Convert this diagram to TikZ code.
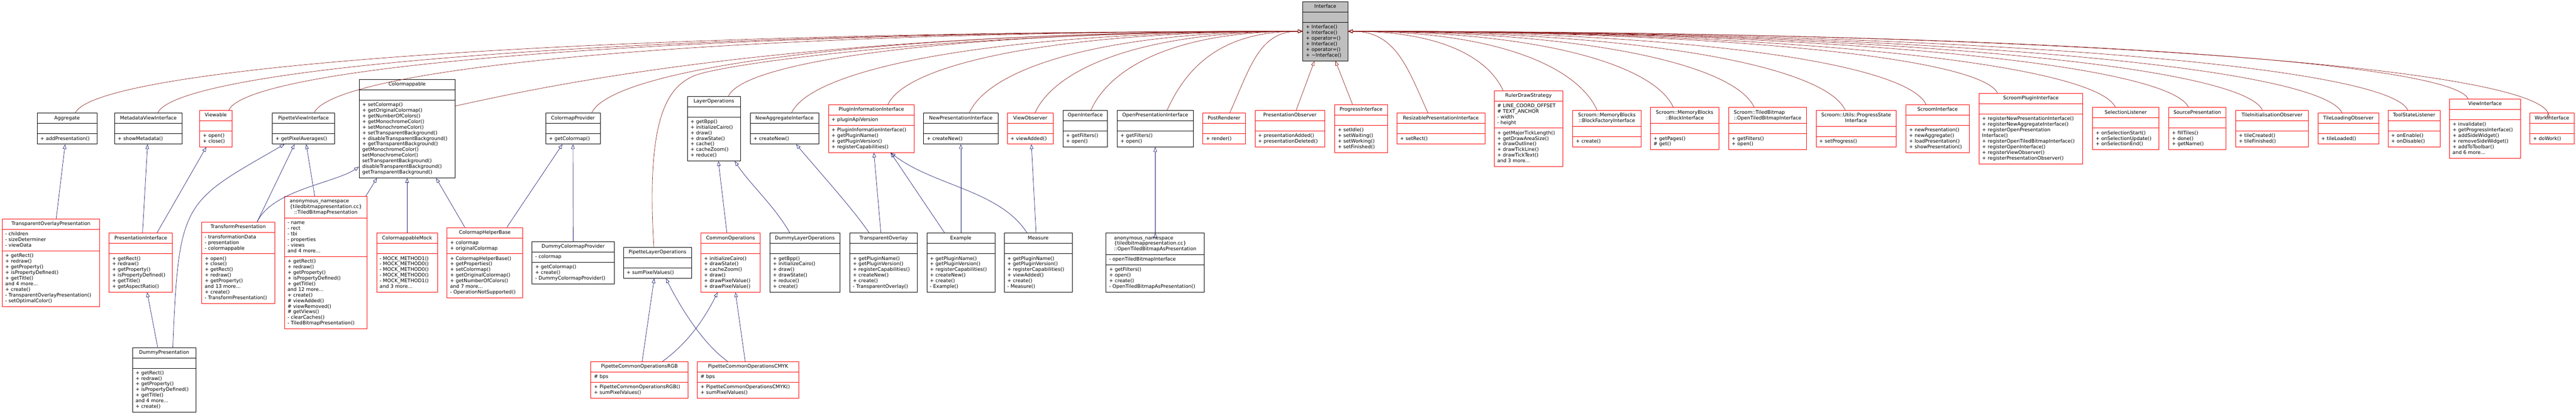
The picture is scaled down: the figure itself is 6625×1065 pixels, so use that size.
\documentclass[tikz,border=0pt]{standalone}
\usepackage{fontspec}
\setmainfont{DejaVu Sans}
\usetikzlibrary{arrows.meta,shapes.multipart,calc}

\definecolor{privred}{HTML}{8B1A1A}
\definecolor{pubblue}{HTML}{191970}
\definecolor{rootgray}{HTML}{BFBFBF}

\newcommand{\mlist}[1]{\begin{tabular}{@{}l@{}}#1\end{tabular}}
\newcommand{\ctitle}[2]{\begin{tabular}{@{}l@{}}#1\\\multicolumn{1}{@{}c@{}}{#2}\end{tabular}}

\begin{document}
\fontsize{12.6}{14.5}\selectfont
\begin{tikzpicture}[x=1pt,y=-1pt,
  cls/.style={rectangle split,rectangle split parts=3,rectangle split part align={center,left,left},
    draw=black,fill=white,line width=1pt,inner xsep=8pt,inner ysep=5.5pt,anchor=west},
  clsred/.style={cls,draw=red},
  clsroot/.style={cls,fill=rootgray},
  pub/.style={draw=pubblue,line width=0.9pt,-{Triangle[open,length=12pt,width=9pt]}},
  privl/.style={draw=privred,line width=0.9pt,-{Triangle[open,length=12pt,width=9pt]}},
  priv/.style={privl,to path={let \p1=(\tikztostart),\p2=(\tikztotarget),
      \n1={\x2-\x1},\n2={\y2-\y1},\n3={sign(\x2-\x1)} in
      .. controls ({\x1+0.25*\n2*\n3},{\y1+0.55*\n2}) and ({\x2-0.6*\n1},\y2) .. (\tikztotarget)}}]

\fill[white] (0,0) rectangle (6625,1065);

\node[clsroot,minimum width=116] (ifc) at (3350,80.5) {\strut Interface\nodepart{two}\strut\nodepart{three}\mlist{+ Interface()\\+ Interface()\\+ operator=()\\+ Interface()\\+ operator=()\\+ \textasciitilde Interface()}};

\node[cls,minimum width=154] (agg) at (95,331) {\strut Aggregate\nodepart{two}\strut\nodepart{three}\mlist{+ addPresentation()}};
\node[cls,minimum width=174] (meta) at (294,331) {\strut MetadataViewInterface\nodepart{two}\strut\nodepart{three}\mlist{+ showMetadata()}};
\node[clsred,minimum width=83] (view) at (513,331) {\strut Viewable\nodepart{two}\strut\nodepart{three}\mlist{+ open()\\+ close()}};
\node[cls,minimum width=160] (pipv) at (700,331) {\strut PipetteViewInterface\nodepart{two}\strut\nodepart{three}\mlist{+ getPixelAverages()}};
\node[cls,minimum width=247] (cmap) at (923,331) {\strut Colormappable\nodepart{two}\strut\nodepart{three}\mlist{+ setColormap()\\+ getOriginalColormap()\\+ getNumberOfColors()\\+ getMonochromeColor()\\+ setMonochromeColor()\\+ setTransparentBackground()\\+ disableTransparentBackground()\\+ getTransparentBackground()\\* getMonochromeColor()\\* setMonochromeColor()\\* setTransparentBackground()\\* disableTransparentBackground()\\* getTransparentBackground()}};
\node[cls,minimum width=140] (cprov) at (1403,331) {\strut ColormapProvider\nodepart{two}\strut\nodepart{three}\mlist{+ getColormap()}};
\node[cls,minimum width=137] (lops) at (1767,331) {\strut LayerOperations\nodepart{two}\strut\nodepart{three}\mlist{+ getBpp()\\+ initializeCairo()\\+ draw()\\+ drawState()\\+ cache()\\+ cacheZoom()\\+ reduce()}};
\node[cls,minimum width=176] (nagg) at (1929,331) {\strut NewAggregateInterface\nodepart{two}\strut\nodepart{three}\mlist{+ createNew()}};
\node[clsred,minimum width=221] (pinfo) at (2130,331) {\strut PluginInformationInterface\nodepart{two}\mlist{+ pluginApiVersion}\nodepart{three}\mlist{+ PluginInformationInterface()\\+ getPluginName()\\+ getPluginVersion()\\+ registerCapabilities()}};
\node[cls,minimum width=191] (npres) at (2375,331) {\strut NewPresentationInterface\nodepart{two}\strut\nodepart{three}\mlist{+ createNew()}};
\node[clsred,minimum width=118] (vobs) at (2590,331) {\strut ViewObserver\nodepart{two}\strut\nodepart{three}\mlist{+ viewAdded()}};
\node[cls,minimum width=115] (openi) at (2733,331) {\strut OpenInterface\nodepart{two}\strut\nodepart{three}\mlist{+ getFilters()\\+ open()}};
\node[cls,minimum width=195] (opres) at (2873,331) {\strut OpenPresentationInterface\nodepart{two}\strut\nodepart{three}\mlist{+ getFilters()\\+ open()}};
\node[clsred,minimum width=109] (post) at (3093,331) {\strut PostRenderer\nodepart{two}\strut\nodepart{three}\mlist{+ render()}};
\node[clsred,minimum width=180] (pobs) at (3227,331) {\strut PresentationObserver\nodepart{two}\strut\nodepart{three}\mlist{+ presentationAdded()\\+ presentationDeleted()}};
\node[clsred,minimum width=136] (prog) at (3432,331) {\strut ProgressInterface\nodepart{two}\strut\nodepart{three}\mlist{+ setIdle()\\+ setWaiting()\\+ setWorking()\\+ setFinished()}};
\node[clsred,minimum width=226] (rpres) at (3592,331) {\strut ResizablePresentationInterface\nodepart{two}\strut\nodepart{three}\mlist{+ setRect()}};
\node[clsred,minimum width=177] (ruler) at (3842,331) {\strut RulerDrawStrategy\nodepart{two}\mlist{\# LINE\_COORD\_OFFSET\\\# TEXT\_ANCHOR\\- width\\- height}\nodepart{three}\mlist{+ getMajorTickLength()\\+ getDrawAreaSize()\\+ drawOutline()\\+ drawTickLine()\\+ drawTickText()\\and 3 more...}};
\node[clsred,minimum width=176] (bfact) at (4044,331) {\ctitle{Scroom::MemoryBlocks}{::BlockFactoryInterface}\nodepart{two}\strut\nodepart{three}\mlist{+ create()}};
\node[clsred,minimum width=176] (block) at (4244,331) {\ctitle{Scroom::MemoryBlocks}{::BlockInterface}\nodepart{two}\strut\nodepart{three}\mlist{+ getPages()\\\# get()}};
\node[clsred,minimum width=201] (otbi) at (4445,331) {\ctitle{Scroom::TiledBitmap}{::OpenTiledBitmapInterface}\nodepart{two}\strut\nodepart{three}\mlist{+ getFilters()\\+ open()}};
\node[clsred,minimum width=206] (pstate) at (4670,331) {\ctitle{Scroom::Utils::ProgressState}{Interface}\nodepart{two}\strut\nodepart{three}\mlist{+ setProgress()}};
\node[clsred,minimum width=163] (sifc) at (4901,331) {\strut ScroomInterface\nodepart{two}\strut\nodepart{three}\mlist{+ newPresentation()\\+ newAggregate()\\+ loadPresentation()\\+ showPresentation()}};
\node[clsred,minimum width=267] (splug) at (5089,331) {\strut ScroomPluginInterface\nodepart{two}\strut\nodepart{three}\mlist{+ registerNewPresentationInterface()\\+ registerNewAggregateInterface()\\+ registerOpenPresentation\\Interface()\\+ registerOpenTiledBitmapInterface()\\+ registerOpenInterface()\\+ registerViewObserver()\\+ registerPresentationObserver()}};
\node[clsred,minimum width=171] (sel) at (5381,331) {\strut SelectionListener\nodepart{two}\strut\nodepart{three}\mlist{+ onSelectionStart()\\+ onSelectionUpdate()\\+ onSelectionEnd()}};
\node[clsred,minimum width=147] (src) at (5577,331) {\strut SourcePresentation\nodepart{two}\strut\nodepart{three}\mlist{+ fillTiles()\\+ done()\\+ getName()}};
\node[clsred,minimum width=187] (tinit) at (5749,331) {\strut TileInitialisationObserver\nodepart{two}\strut\nodepart{three}\mlist{+ tileCreated()\\+ tileFinished()}};
\node[clsred,minimum width=156] (tload) at (5961,331) {\strut TileLoadingObserver\nodepart{two}\strut\nodepart{three}\mlist{+ tileLoaded()}};
\node[clsred,minimum width=134] (tool) at (6141,331) {\strut ToolStateListener\nodepart{two}\strut\nodepart{three}\mlist{+ onEnable()\\+ onDisable()}};
\node[clsred,minimum width=183] (vifc) at (6299,331) {\strut ViewInterface\nodepart{two}\strut\nodepart{three}\mlist{+ invalidate()\\+ getProgressInterface()\\+ addSideWidget()\\+ removeSideWidget()\\+ addToToolbar()\\and 6 more...}};
\node[clsred,minimum width=113] (work) at (6506,331) {\strut WorkInterface\nodepart{two}\strut\nodepart{three}\mlist{+ doWork()}};

\node[clsred,minimum width=251] (tovp) at (5,676) {\strut TransparentOverlayPresentation\nodepart{two}\mlist{- children\\- sizeDeterminer\\- viewData}\nodepart{three}\mlist{+ getRect()\\+ redraw()\\+ getProperty()\\+ isPropertyDefined()\\+ getTitle()\\and 4 more...\\+ create()\\- TransparentOverlayPresentation()\\- setOptimalColor()}};
\node[clsred,minimum width=163] (pint) at (280,676) {\strut PresentationInterface\nodepart{two}\strut\nodepart{three}\mlist{+ getRect()\\+ redraw()\\+ getProperty()\\+ isPropertyDefined()\\+ getTitle()\\+ getAspectRatio()}};
\node[clsred,minimum width=188] (tfp) at (518,676) {\strut TransformPresentation\nodepart{two}\mlist{- transformationData\\- presentation\\- colormappable}\nodepart{three}\mlist{+ open()\\+ close()\\+ getRect()\\+ redraw()\\+ getProperty()\\and 13 more...\\+ create()\\- TransformPresentation()}};
\node[clsred,minimum width=213] (tbp) at (731,676) {\ctitle{anonymous\_namespace\\\{tiledbitmappresentation.cc\}}{::TiledBitmapPresentation}\nodepart{two}\mlist{- name\\- rect\\- tbi\\- properties\\- views\\and 4 more...}\nodepart{three}\mlist{+ getRect()\\+ redraw()\\+ getProperty()\\+ isPropertyDefined()\\+ getTitle()\\and 12 more...\\+ create()\\\# viewAdded()\\\# viewRemoved()\\\# getViews()\\- clearCaches()\\- TiledBitmapPresentation()}};
\node[clsred,minimum width=157] (cmock) at (968,676) {\strut ColormappableMock\nodepart{two}\strut\nodepart{three}\mlist{- MOCK\_METHOD1()\\- MOCK\_METHOD0()\\- MOCK\_METHOD0()\\- MOCK\_METHOD0()\\- MOCK\_METHOD1()\\and 3 more...}};
\node[clsred,minimum width=195] (chelp) at (1149,676) {\strut ColormapHelperBase\nodepart{two}\mlist{+ colormap\\+ originalColormap}\nodepart{three}\mlist{+ ColormapHelperBase()\\+ getProperties()\\+ setColormap()\\+ getOriginalColormap()\\+ getNumberOfColors()\\and 7 more...\\- OperationNotSupported()}};
\node[cls,minimum width=211] (dcprov) at (1368,676) {\strut DummyColormapProvider\nodepart{two}\mlist{- colormap}\nodepart{three}\mlist{+ getColormap()\\+ create()\\- DummyColormapProvider()}};
\node[cls,minimum width=175] (plops) at (1603,676) {\strut PipetteLayerOperations\nodepart{two}\strut\nodepart{three}\mlist{+ sumPixelValues()}};
\node[clsred,minimum width=153] (cops) at (1802,676) {\strut CommonOperations\nodepart{two}\strut\nodepart{three}\mlist{+ initializeCairo()\\+ drawState()\\+ cacheZoom()\\+ draw()\\+ drawPixelValue()\\+ drawPixelValue()}};
\node[cls,minimum width=181] (dlo) at (1979,676) {\strut DummyLayerOperations\nodepart{two}\strut\nodepart{three}\mlist{+ getBpp()\\+ initializeCairo()\\+ draw()\\+ drawState()\\+ reduce()\\+ create()}};
\node[cls,minimum width=174] (tov) at (2185,676) {\strut TransparentOverlay\nodepart{two}\strut\nodepart{three}\mlist{+ getPluginName()\\+ getPluginVersion()\\+ registerCapabilities()\\+ createNew()\\+ create()\\- TransparentOverlay()}};
\node[cls,minimum width=175] (expl) at (2383,676) {\strut Example\nodepart{two}\strut\nodepart{three}\mlist{+ getPluginName()\\+ getPluginVersion()\\+ registerCapabilities()\\+ createNew()\\+ create()\\- Example()}};
\node[cls,minimum width=175] (meas) at (2582,676) {\strut Measure\nodepart{two}\strut\nodepart{three}\mlist{+ getPluginName()\\+ getPluginVersion()\\+ registerCapabilities()\\+ viewAdded()\\+ create()\\- Measure()}};
\node[cls,minimum width=253] (otbp) at (2844,676) {\ctitle{anonymous\_namespace\\\{tiledbitmappresentation.cc\}}{::OpenTiledBitmapAsPresentation}\nodepart{two}\mlist{- openTiledBitmapInterface}\nodepart{three}\mlist{+ getFilters()\\+ open()\\+ create()\\- OpenTiledBitmapAsPresentation()}};

\node[cls,minimum width=163] (dpres) at (340,977.5) {\strut DummyPresentation\nodepart{two}\strut\nodepart{three}\mlist{+ getRect()\\+ redraw()\\+ getProperty()\\+ isPropertyDefined()\\+ getTitle()\\and 4 more...\\+ create()}};
\node[clsred,minimum width=250] (prgb) at (1519,977.5) {\strut PipetteCommonOperationsRGB\nodepart{two}\mlist{\# bps}\nodepart{three}\mlist{+ PipetteCommonOperationsRGB()\\+ sumPixelValues()}};
\node[clsred,minimum width=261] (pcmyk) at (1793,977.5) {\strut PipetteCommonOperationsCMYK\nodepart{two}\mlist{\# bps}\nodepart{three}\mlist{+ PipetteCommonOperationsCMYK()\\+ sumPixelValues()}};

\path[pub] ([xshift=13.5pt]tovp.north) edge ([xshift=-5pt]agg.south)
  ([xshift=4.5pt]pint.north) edge ([xshift=-2pt]meta.south)
  ([xshift=41.5pt]pint.north) edge ([xshift=-24.5pt]view.south)
  ([xshift=-16.5pt]dpres.north) edge ([xshift=16.5pt]pint.south)
  ([xshift=49pt]tfp.north) edge ([xshift=-23pt]pipv.south)
  ([xshift=-28.5pt]tbp.north) edge ([xshift=7pt]pipv.south)
  ([xshift=102.5pt]tbp.north) edge ([xshift=-77.5pt]cmap.south)
  (cmock.north) edge (cmap.south)
  ([xshift=-51.5pt]chelp.north) edge ([xshift=74.5pt]cmap.south)
  ([xshift=56.5pt]chelp.north) edge ([xshift=-27pt]cprov.south)
  (dcprov.north) edge (cprov.south)
  ([xshift=-9.5pt]cops.north) edge ([xshift=11.5pt]lops.south)
  ([xshift=7pt]prgb.north) edge ([xshift=-8.5pt]plops.south)
  ([xshift=-7.5pt]pcmyk.north) edge ([xshift=12.5pt]cops.south)
  ([xshift=-7pt]tov.north) edge ([xshift=6.5pt]pinfo.south)
  ([xshift=-41.5pt]expl.north) edge ([xshift=49.5pt]pinfo.south)
  (expl.north) edge (npres.south)
  ([xshift=-5.5pt]meas.north) edge ([xshift=3pt]vobs.south)
  (otbp.north) edge (opres.south);

\draw[pub] ([xshift=22.5pt]dpres.north) .. controls +(15,-380) and +(-260,150) .. ([xshift=-49pt]pipv.south);
\draw[pub] ([xshift=49pt]tfp.north) .. controls +(40,-82) and +(-63,42) .. ([yshift=29pt]cmap.south west);
\draw[pub] ([xshift=-38.5pt]dlo.north) .. controls +(-40,-70) and +(40,60) .. ([xshift=53.5pt]lops.south);
\draw[pub] ([xshift=59pt]prgb.north) .. controls +(70,-50) and +(-30,60) .. ([xshift=-33.5pt]cops.south);
\draw[pub] ([xshift=-52.5pt]pcmyk.north) .. controls +(-70,-50) and +(30,60) .. ([xshift=21.5pt]plops.south);
\draw[pub] ([xshift=-37pt]tov.north) .. controls +(-40,-60) and +(50,60) .. ([xshift=30pt]nagg.south);
\draw[pub] ([xshift=-28.5pt]meas.north) .. controls +(-70,-110) and +(110,85) .. ([xshift=49.5pt]pinfo.south);

\path[priv] ([xshift=21pt]agg.north) edge (ifc.west)
  ([xshift=24pt]meta.north) edge (ifc.west)
  ([xshift=33.5pt]view.north) edge (ifc.west)
  ([xshift=27pt]pipv.north) edge (ifc.west)
  ([xshift=48pt]cprov.north) edge (ifc.west)
  ([xshift=37.5pt]lops.north) edge (ifc.west)
  ([xshift=18pt]nagg.north) edge (ifc.west)
  ([xshift=42.5pt]pinfo.north) edge (ifc.west)
  ([xshift=21.5pt]npres.north) edge (ifc.west)
  ([xshift=12pt]vobs.north) edge (ifc.west)
  ([xshift=14.5pt]openi.north) edge (ifc.west)
  ([xshift=30.5pt]opres.north) edge (ifc.west)
  ([xshift=14.5pt]post.north) edge (ifc.west)
  ([xshift=-33pt]rpres.north) edge (ifc.east)
  ([xshift=-65.5pt]ruler.north) edge (ifc.east)
  ([xshift=-25pt]bfact.north) edge (ifc.east)
  ([xshift=-29pt]block.north) edge (ifc.east)
  ([xshift=-34.5pt]otbi.north) edge (ifc.east)
  ([xshift=-28pt]pstate.north) edge (ifc.east)
  ([xshift=-29.5pt]sifc.north) edge (ifc.east)
  ([xshift=-85.5pt]splug.north) edge (ifc.east)
  ([xshift=-26.5pt]sel.north) edge (ifc.east)
  ([xshift=-22.5pt]src.north) edge (ifc.east)
  ([xshift=-24.5pt]tinit.north) edge (ifc.east)
  ([xshift=-16pt]tload.north) edge (ifc.east)
  ([xshift=-16pt]tool.north) edge (ifc.east)
  ([xshift=-43.5pt]vifc.north) edge (ifc.east)
  ([xshift=-9.5pt]work.north) edge (ifc.east);

\draw[privl] ([yshift=-69pt]cmap.north east) .. controls +(250,-55) and +(-1300,0) .. (ifc.west);
\draw[privl] ([xshift=-9.5pt]plops.north) .. controls +(-20,-330) and +(-70,30) .. (1785,195) .. controls +(70,-30) and +(-900,0) .. (ifc.west);
\draw[privl] ([xshift=16pt]pobs.north) -- ([xshift=-28pt]ifc.south);
\draw[privl] ([xshift=-22pt]prog.north) -- ([xshift=26pt]ifc.south);

\end{tikzpicture}
\end{document}
